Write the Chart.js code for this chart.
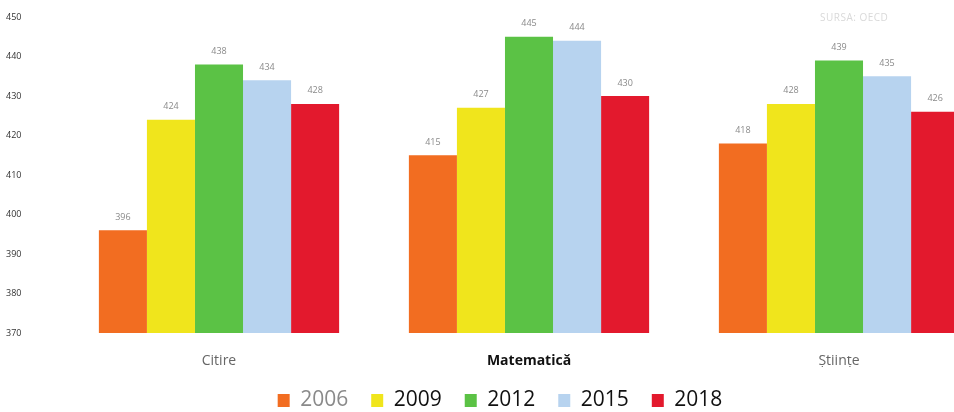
<!DOCTYPE html>
<html lang="ro">
<head>
<meta charset="utf-8">
<title>PISA</title>
<script src="https://cdn.jsdelivr.net/npm/chart.js@4/dist/chart.umd.min.js"></script>
<style>
  html, body { margin: 0; padding: 0; background: #fff; overflow: hidden; }
  .wrap { position: relative; width: 994px; height: 412px; }
  .source { position: absolute; top: 10px; left: 820px; font: 10px 'Open Sans', sans-serif; color: #d9d9d9; letter-spacing: 0.5px; }
</style>
</head>
<body>
<div class="wrap">
  <canvas id="chart" width="994" height="412"></canvas>
  <div class="source">SURSA: OECD</div>
</div>
<script>
const categories = ['Citire', 'Matematică', 'Științe'];
const years = ['2006', '2009', '2012', '2015', '2018'];
const scores2006 = [396, 415, 418];
const scores2009 = [424, 427, 428];
const scores2012 = [438, 445, 439];
const scores2015 = [434, 444, 435];
const scores2018 = [428, 430, 426];
const yTicks = [370, 380, 390, 400, 410, 420, 430, 440, 450];

const colors = ['#f26d21', '#f0e51c', '#5bc245', '#b7d3ef', '#e3192d'];
const series = [scores2006, scores2009, scores2012, scores2015, scores2018];

// small grey numbers above every bar
const valueLabels = {
  id: 'valueLabels',
  afterDatasetsDraw(chart) {
    const ctx = chart.ctx;
    ctx.save();
    ctx.font = '9px "Open Sans", sans-serif';
    ctx.fillStyle = '#8a8a8a';
    ctx.textAlign = 'center';
    ctx.textBaseline = 'middle';
    chart.data.datasets.forEach((ds, i) => {
      chart.getDatasetMeta(i).data.forEach((bar, j) => {
        ctx.fillText(String(ds.data[j]), bar.x, bar.y - 13);
      });
    });
    ctx.restore();
  }
};

new Chart(document.getElementById('chart'), {
  type: 'bar',
  data: {
    labels: categories,
    datasets: years.map((year, i) => ({
      label: year,
      data: series[i],
      backgroundColor: colors[i],
      borderWidth: 0,
      categoryPercentage: 0.775,
      barPercentage: 1.0
    }))
  },
  options: {
    responsive: false,
    animation: false,
    // legend padding is wide for item spacing, so let its lower margin hang off the canvas
    layout: { padding: { left: 6, right: 0, top: 17, bottom: -9 } },
    plugins: {
      tooltip: { enabled: false },
      legend: {
        position: 'bottom',
        labels: {
          boxWidth: 12,
          boxHeight: 13,
          padding: 23,
          font: { family: '"Open Sans", sans-serif', size: 21 },
          generateLabels(chart) {
            return chart.data.datasets.map((ds, i) => ({
              text: ds.label,
              fillStyle: ds.backgroundColor,
              strokeStyle: ds.backgroundColor,
              lineWidth: 0,
              fontColor: i === 0 ? '#8a8a8a' : '#111',
              datasetIndex: i
            }));
          }
        }
      }
    },
    scales: {
      x: {
        afterFit(axis) { axis.height = 34; },
        grid: { display: false, drawTicks: false },
        border: { display: false },
        ticks: {
          padding: 20,
          color: (c) => c.index === 1 ? '#111' : '#666',
          font: (c) => ({
            family: '"Open Sans", sans-serif',
            size: 14,
            weight: c.index === 1 ? 'bold' : 'normal'
          })
        }
      },
      y: {
        min: 370,
        max: 450,
        afterFit(axis) { axis.width = 58; },
        afterBuildTicks(axis) { axis.ticks = yTicks.map((v) => ({ value: v })); },
        grid: { display: false, drawTicks: false },
        border: { display: false },
        ticks: {
          crossAlign: 'far',
          color: '#333',
          font: { family: '"Open Sans", sans-serif', size: 9 }
        }
      }
    }
  },
  plugins: [valueLabels]
});
</script>
</body>
</html>
